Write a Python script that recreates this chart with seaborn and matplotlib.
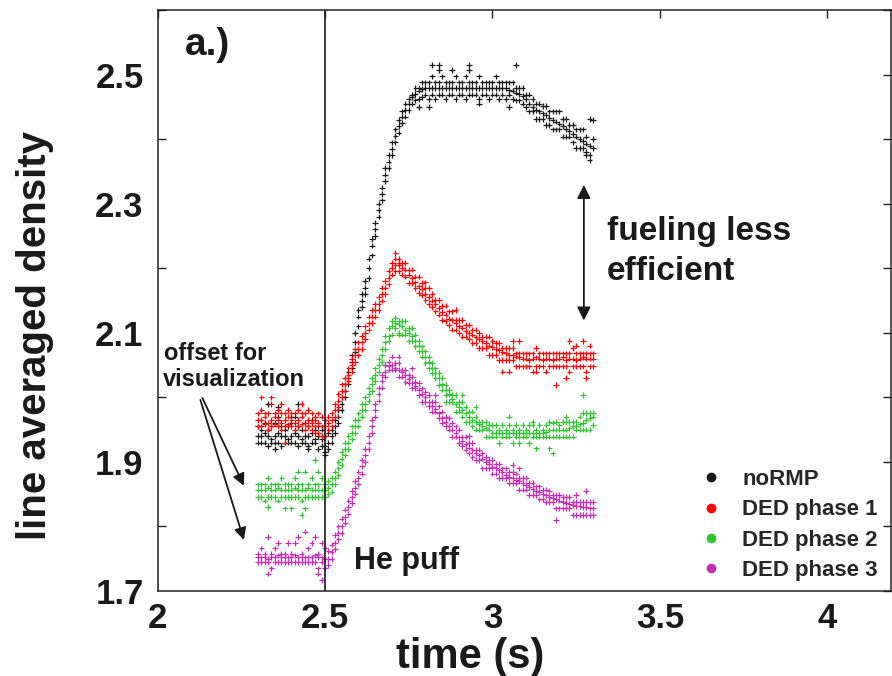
import matplotlib
matplotlib.use("Agg")
import matplotlib.pyplot as plt
from matplotlib.lines import Line2D
import seaborn as sns
import pandas as pd

# ---------------- data ----------------
times = [2.30, 2.31, 2.32, 2.33, 2.34, 2.35, 2.36, 2.37, 2.38, 2.39,
         2.40, 2.41, 2.42, 2.43, 2.44, 2.45, 2.46, 2.47, 2.48, 2.49,
         2.50, 2.51, 2.52, 2.53, 2.54, 2.55, 2.56, 2.57, 2.58, 2.59,
         2.60, 2.61, 2.62, 2.63, 2.64, 2.65, 2.66, 2.67, 2.68, 2.69,
         2.70, 2.71, 2.72, 2.73, 2.74, 2.75, 2.76, 2.77, 2.78, 2.79,
         2.80, 2.81, 2.82, 2.83, 2.84, 2.85, 2.86, 2.87, 2.88, 2.89,
         2.90, 2.91, 2.92, 2.93, 2.94, 2.95, 2.96, 2.97, 2.98, 2.99,
         3.00, 3.01, 3.02, 3.03, 3.04, 3.05, 3.06, 3.07, 3.08, 3.09,
         3.10, 3.11, 3.12, 3.13, 3.14, 3.15, 3.16, 3.17, 3.18, 3.19,
         3.20, 3.21, 3.22, 3.23, 3.24, 3.25, 3.26, 3.27, 3.28, 3.29,
         3.30]

normp_lo = [1.93, 1.93, 1.93, 1.925, 1.93, 1.93, 1.93, 1.925, 1.93, 1.93,
            1.93, 1.93, 1.925, 1.93, 1.93, 1.925, 1.93, 1.93, 1.92, 1.925,
            1.915, 1.92, 1.93, 1.945, 1.96, 1.98, 2.0, 2.02, 2.045, 2.07,
            2.11, 2.14, 2.16, 2.185, 2.22, 2.25, 2.28, 2.305, 2.335, 2.355,
            2.375, 2.395, 2.41, 2.425, 2.435, 2.445, 2.455, 2.46, 2.462, 2.465,
            2.469, 2.462, 2.469, 2.462, 2.469, 2.469, 2.462, 2.469, 2.469, 2.462,
            2.469, 2.469, 2.462, 2.469, 2.469, 2.469, 2.462, 2.469, 2.469, 2.462,
            2.469, 2.469, 2.462, 2.469, 2.462, 2.469, 2.462, 2.46, 2.46, 2.455,
            2.45, 2.443, 2.443, 2.431, 2.431, 2.431, 2.422, 2.422, 2.415, 2.415,
            2.415, 2.404, 2.404, 2.404, 2.395, 2.386, 2.386, 2.386, 2.38, 2.375,
            2.386]
normp_mid = [1.94, 1.94, 1.945, 1.94, 1.935, 1.94, 1.945, 1.94, 1.94, 1.935,
             1.94, 1.945, 1.94, 1.935, 1.94, 1.94, 1.945, 1.935, 1.94, 1.935,
             1.925, 1.93, 1.94, 1.955, 1.97, 1.99, 2.01, 2.03, 2.055, 2.085,
             2.125, 2.15, 2.17, 2.20, 2.235, 2.26, 2.29, 2.315, 2.345, 2.365,
             2.385, 2.405, 2.42, 2.435, 2.445, 2.455, 2.465, 2.47, 2.475, 2.478,
             2.479, 2.479, 2.479, 2.479, 2.479, 2.479, 2.479, 2.479, 2.479, 2.479,
             2.479, 2.479, 2.479, 2.479, 2.479, 2.479, 2.479, 2.479, 2.479, 2.479,
             2.479, 2.479, 2.479, 2.479, 2.479, 2.476, 2.475, 2.472, 2.47, 2.467,
             2.462, 2.455, 2.45, 2.445, 2.443, 2.44, 2.437, 2.433, 2.43, 2.427,
             2.424, 2.42, 2.416, 2.412, 2.408, 2.404, 2.40, 2.397, 2.393, 2.39,
             2.40]
normp_hi = [1.955, 1.95, 1.96, 1.95, 1.955, 1.96, 1.97, 1.955, 1.95, 1.955,
            1.96, 1.97, 1.955, 1.95, 1.96, 1.955, 1.965, 1.95, 1.955, 1.95,
            1.94, 1.945, 1.95, 1.965, 1.98, 2.0, 2.02, 2.04, 2.065, 2.10,
            2.135, 2.16, 2.18, 2.215, 2.245, 2.27, 2.30, 2.325, 2.355, 2.375,
            2.395, 2.415, 2.43, 2.443, 2.455, 2.462, 2.469, 2.479, 2.479, 2.488,
            2.488, 2.488, 2.497, 2.488, 2.488, 2.497, 2.488, 2.488, 2.488, 2.497,
            2.488, 2.488, 2.497, 2.488, 2.488, 2.488, 2.497, 2.488, 2.488, 2.488,
            2.488, 2.497, 2.488, 2.488, 2.488, 2.488, 2.488, 2.479, 2.479, 2.479,
            2.469, 2.469, 2.462, 2.455, 2.455, 2.451, 2.451, 2.443, 2.443, 2.443,
            2.443, 2.431, 2.431, 2.422, 2.422, 2.415, 2.415, 2.415, 2.404, 2.431,
            2.43]
normp_extra_t = [2.82, 2.84, 2.93, 3.07, 2.84, 2.88, 2.93, 2.78, 2.81, 2.96,
                 3.05, 3.29, 3.28, 2.33, 2.36, 2.42, 2.45, 2.35, 2.40, 2.50]
normp_extra_v = [2.515, 2.515, 2.515, 2.515, 2.507, 2.507, 2.507, 2.45, 2.45, 2.455,
                 2.45, 2.367, 2.375, 1.99, 1.985, 1.99, 1.92, 1.92, 1.97, 1.91]

ded1_lo = [1.955, 1.955, 1.958, 1.95, 1.955, 1.958, 1.955, 1.95, 1.955, 1.958,
           1.955, 1.95, 1.955, 1.958, 1.95, 1.955, 1.95, 1.955, 1.945, 1.94,
           1.94, 1.95, 1.955, 1.97, 1.985, 2.0, 2.01, 2.025, 2.04, 2.055,
           2.065, 2.075, 2.09, 2.105, 2.115, 2.125, 2.135, 2.15, 2.16, 2.175,
           2.19, 2.195, 2.195, 2.19, 2.187, 2.177, 2.177, 2.169, 2.162, 2.158,
           2.151, 2.145, 2.14, 2.133, 2.128, 2.12, 2.118, 2.112, 2.105, 2.105,
           2.1, 2.094, 2.094, 2.09, 2.084, 2.084, 2.076, 2.076, 2.076, 2.066,
           2.066, 2.066, 2.058, 2.058, 2.058, 2.058, 2.058, 2.048, 2.048, 2.048,
           2.048, 2.048, 2.04, 2.048, 2.048, 2.048, 2.04, 2.048, 2.048, 2.048,
           2.048, 2.048, 2.048, 2.04, 2.048, 2.048, 2.048, 2.048, 2.04, 2.048,
           2.048]
ded1_mid = [1.965, 1.965, 1.97, 1.96, 1.965, 1.97, 1.965, 1.96, 1.965, 1.97,
            1.965, 1.96, 1.965, 1.97, 1.96, 1.965, 1.96, 1.965, 1.96, 1.955,
            1.955, 1.96, 1.965, 1.98, 1.995, 2.01, 2.02, 2.035, 2.05, 2.065,
            2.075, 2.085, 2.10, 2.115, 2.125, 2.135, 2.145, 2.16, 2.17, 2.185,
            2.20, 2.205, 2.205, 2.20, 2.198, 2.19, 2.185, 2.178, 2.172, 2.168,
            2.16, 2.155, 2.15, 2.145, 2.138, 2.132, 2.128, 2.122, 2.12, 2.115,
            2.11, 2.108, 2.103, 2.10, 2.097, 2.093, 2.09, 2.087, 2.084, 2.08,
            2.078, 2.075, 2.073, 2.07, 2.068, 2.066, 2.065, 2.063, 2.062, 2.06,
            2.06, 2.058, 2.06, 2.062, 2.06, 2.058, 2.06, 2.06, 2.058, 2.06,
            2.06, 2.062, 2.058, 2.06, 2.06, 2.058, 2.06, 2.062, 2.06, 2.06,
            2.06]
ded1_hi = [1.975, 1.98, 1.975, 1.975, 1.99, 1.975, 1.98, 1.975, 1.975, 1.98,
           1.975, 1.975, 1.98, 1.975, 1.975, 1.98, 1.975, 1.97, 1.975, 1.97,
           1.965, 1.97, 1.975, 1.99, 2.005, 2.02, 2.03, 2.045, 2.06, 2.075,
           2.085, 2.095, 2.11, 2.125, 2.135, 2.145, 2.155, 2.17, 2.18, 2.195,
           2.208, 2.215, 2.208, 2.208, 2.208, 2.198, 2.198, 2.187, 2.187, 2.177,
           2.169, 2.169, 2.16, 2.151, 2.151, 2.142, 2.142, 2.133, 2.133, 2.12,
           2.12, 2.12, 2.112, 2.112, 2.105, 2.105, 2.1, 2.094, 2.094, 2.094,
           2.087, 2.084, 2.084, 2.076, 2.076, 2.076, 2.076, 2.068, 2.068, 2.068,
           2.068, 2.068, 2.068, 2.076, 2.068, 2.068, 2.068, 2.068, 2.068, 2.068,
           2.068, 2.068, 2.068, 2.068, 2.076, 2.068, 2.068, 2.068, 2.068, 2.068,
           2.068]
ded1_extra_t = [2.71, 2.72, 2.31, 2.34, 2.37, 2.43, 2.38, 2.47, 2.89, 2.80, 3.06,
                3.08, 3.23, 3.27, 3.25, 3.29, 3.03, 3.05, 3.13, 3.22, 3.19, 3.28]
ded1_extra_v = [2.224, 2.215, 2.0, 2.0, 1.99, 1.99, 1.93, 1.945, 2.135, 2.178, 2.087,
                2.087, 2.087, 2.087, 2.08, 2.08, 2.04, 2.04, 2.04, 2.03, 2.019, 2.03]

ded2_lo = [1.846, 1.846, 1.84, 1.846, 1.846, 1.846, 1.84, 1.846, 1.846, 1.846,
           1.846, 1.846, 1.846, 1.84, 1.846, 1.846, 1.846, 1.846, 1.846, 1.846,
           1.846, 1.85, 1.854, 1.865, 1.88, 1.895, 1.91, 1.92, 1.935, 1.945,
           1.955, 1.97, 1.98, 1.995, 2.01, 2.025, 2.04, 2.055, 2.075, 2.087,
           2.097, 2.107, 2.097, 2.097, 2.097, 2.087, 2.087, 2.079, 2.071, 2.063,
           2.053, 2.045, 2.038, 2.03, 2.019, 2.012, 2.004, 1.993, 1.993, 1.978,
           1.978, 1.97, 1.962, 1.962, 1.955, 1.95, 1.95, 1.95, 1.939, 1.939,
           1.939, 1.939, 1.929, 1.939, 1.939, 1.939, 1.929, 1.939, 1.939, 1.939,
           1.939, 1.929, 1.939, 1.939, 1.939, 1.939, 1.939, 1.939, 1.939, 1.939,
           1.939, 1.939, 1.939, 1.939, 1.939, 1.95, 1.95, 1.95, 1.95, 1.95,
           1.957]
ded2_mid = [1.857, 1.857, 1.857, 1.86, 1.857, 1.857, 1.86, 1.857, 1.857, 1.857,
            1.857, 1.86, 1.857, 1.857, 1.857, 1.86, 1.857, 1.857, 1.857, 1.857,
            1.857, 1.86, 1.865, 1.875, 1.89, 1.905, 1.92, 1.93, 1.945, 1.955,
            1.965, 1.98, 1.99, 2.005, 2.02, 2.035, 2.05, 2.065, 2.085, 2.095,
            2.11, 2.115, 2.113, 2.11, 2.105, 2.10, 2.095, 2.088, 2.08, 2.072,
            2.063, 2.055, 2.045, 2.038, 2.03, 2.02, 2.012, 2.005, 1.998, 1.99,
            1.985, 1.98, 1.975, 1.97, 1.965, 1.962, 1.958, 1.955, 1.952, 1.95,
            1.945, 1.945, 1.945, 1.945, 1.945, 1.945, 1.945, 1.945, 1.945, 1.945,
            1.945, 1.945, 1.945, 1.945, 1.945, 1.945, 1.947, 1.95, 1.95, 1.95,
            1.95, 1.95, 1.95, 1.952, 1.955, 1.955, 1.958, 1.96, 1.965, 1.968,
            1.97]
ded2_hi = [1.865, 1.865, 1.865, 1.875, 1.865, 1.865, 1.865, 1.875, 1.865, 1.865,
           1.865, 1.875, 1.865, 1.865, 1.885, 1.865, 1.875, 1.865, 1.865, 1.875,
           1.865, 1.87, 1.875, 1.885, 1.9, 1.915, 1.93, 1.94, 1.955, 1.965,
           1.975, 1.99, 2.0, 2.015, 2.03, 2.045, 2.06, 2.075, 2.095, 2.107,
           2.118, 2.123, 2.118, 2.118, 2.118, 2.107, 2.107, 2.097, 2.087, 2.079,
           2.071, 2.063, 2.053, 2.045, 2.038, 2.03, 2.019, 2.012, 2.004, 2.004,
           1.993, 1.993, 1.985, 1.978, 1.978, 1.97, 1.962, 1.962, 1.962, 1.957,
           1.957, 1.957, 1.95, 1.957, 1.95, 1.957, 1.95, 1.957, 1.95, 1.957,
           1.95, 1.957, 1.957, 1.95, 1.957, 1.95, 1.957, 1.962, 1.96, 1.962,
           1.957, 1.962, 1.962, 1.962, 1.962, 1.962, 1.97, 1.976, 1.976, 1.976,
           1.976]
ded2_extra_t = [2.38, 2.40, 2.43, 2.44, 2.33, 2.47, 2.42, 2.48, 2.77, 2.72, 2.86,
                2.91, 2.95, 3.05, 3.12, 3.08, 3.13, 3.17, 3.18, 3.27, 3.22]
ded2_extra_v = [1.828, 1.828, 1.818, 1.828, 1.83, 1.903, 1.885, 1.885, 2.079, 2.10, 1.993,
                2.004, 1.985, 1.97, 1.962, 1.929, 1.921, 1.921, 1.913, 2.004, 1.97]

ded3_lo = [1.745, 1.745, 1.745, 1.745, 1.735, 1.745, 1.745, 1.745, 1.745, 1.745,
           1.745, 1.745, 1.745, 1.745, 1.745, 1.745, 1.745, 1.745, 1.735, 1.745,
           1.735, 1.74, 1.75, 1.765, 1.78, 1.79, 1.805, 1.82, 1.836, 1.851,
           1.865, 1.882, 1.9, 1.92, 1.945, 1.97, 1.995, 2.015, 2.032, 2.043,
           2.043, 2.043, 2.032, 2.032, 2.024, 2.022, 2.014, 2.014, 2.004, 1.993,
           1.993, 1.986, 1.978, 1.978, 1.968, 1.96, 1.955, 1.95, 1.939, 1.939,
           1.929, 1.924, 1.919, 1.913, 1.908, 1.903, 1.903, 1.89, 1.89, 1.89,
           1.882, 1.882, 1.875, 1.875, 1.875, 1.867, 1.867, 1.867, 1.857, 1.857,
           1.857, 1.849, 1.849, 1.849, 1.842, 1.842, 1.838, 1.838, 1.838, 1.828,
           1.828, 1.828, 1.828, 1.828, 1.818, 1.818, 1.818, 1.818, 1.818, 1.818,
           1.818]
ded3_mid = [1.752, 1.752, 1.752, 1.75, 1.752, 1.752, 1.755, 1.752, 1.752, 1.752,
            1.752, 1.755, 1.752, 1.752, 1.752, 1.752, 1.752, 1.755, 1.752, 1.752,
            1.75, 1.75, 1.76, 1.775, 1.79, 1.80, 1.815, 1.83, 1.845, 1.86,
            1.875, 1.893, 1.91, 1.93, 1.955, 1.98, 2.005, 2.025, 2.04, 2.048,
            2.05, 2.045, 2.043, 2.04, 2.035, 2.028, 2.022, 2.018, 2.012, 2.005,
            2.0, 1.993, 1.987, 1.982, 1.975, 1.968, 1.962, 1.956, 1.95, 1.945,
            1.938, 1.932, 1.928, 1.922, 1.918, 1.913, 1.91, 1.905, 1.90, 1.896,
            1.892, 1.89, 1.887, 1.884, 1.88, 1.877, 1.875, 1.872, 1.87, 1.867,
            1.864, 1.861, 1.858, 1.855, 1.853, 1.85, 1.848, 1.846, 1.844, 1.842,
            1.84, 1.838, 1.836, 1.835, 1.833, 1.832, 1.831, 1.83, 1.83, 1.828,
            1.828]
ded3_hi = [1.758, 1.766, 1.758, 1.784, 1.758, 1.766, 1.774, 1.758, 1.758, 1.774,
           1.758, 1.774, 1.784, 1.758, 1.792, 1.766, 1.774, 1.784, 1.758, 1.774,
           1.766, 1.762, 1.772, 1.787, 1.80, 1.812, 1.826, 1.84, 1.855, 1.87,
           1.885, 1.903, 1.92, 1.94, 1.965, 1.99, 2.015, 2.035, 2.05, 2.055,
           2.063, 2.053, 2.053, 2.043, 2.043, 2.035, 2.032, 2.024, 2.022, 2.014,
           2.008, 2.004, 1.993, 1.993, 1.986, 1.978, 1.97, 1.968, 1.96, 1.955,
           1.95, 1.939, 1.939, 1.929, 1.929, 1.919, 1.919, 1.913, 1.908, 1.903,
           1.903, 1.897, 1.897, 1.89, 1.89, 1.884, 1.884, 1.882, 1.875, 1.875,
           1.875, 1.867, 1.867, 1.862, 1.862, 1.857, 1.857, 1.855, 1.849, 1.849,
           1.849, 1.846, 1.846, 1.846, 1.838, 1.838, 1.838, 1.838, 1.838, 1.838,
           1.838]
ded3_extra_t = [2.33, 2.34, 2.48, 2.49, 2.72, 2.76, 2.83, 2.93, 3.06, 3.08, 3.19, 3.28, 3.25]
ded3_extra_v = [1.727, 1.735, 1.727, 1.717, 2.063, 2.045, 2.004, 1.94, 1.895, 1.89, 1.81, 1.855, 1.849]

series_names = ["noRMP", "DED phase 1", "DED phase 2", "DED phase 3"]
series_colors = ["#1a1a1a", "#ff0000", "#33c233", "#c42fb4"]
x_ticks = [2, 2.5, 3, 3.5, 4]
x_tick_labels = ["2", "2.5", "3", "3.5", "4"]
y_ticks = [1.7, 1.9, 2.1, 2.3, 2.5]
y_tick_labels = ["1.7", "1.9", "2.1", "2.3", "2.5"]

# ---------------- build long table ----------------
series_rows = [
    (normp_lo, normp_mid, normp_hi, normp_extra_t, normp_extra_v),
    (ded1_lo, ded1_mid, ded1_hi, ded1_extra_t, ded1_extra_v),
    (ded2_lo, ded2_mid, ded2_hi, ded2_extra_t, ded2_extra_v),
    (ded3_lo, ded3_mid, ded3_hi, ded3_extra_t, ded3_extra_v),
]
frames = []
for name, (lo, mid, hi, et, ev) in zip(series_names, series_rows):
    for vals in (lo, mid, hi):
        assert len(vals) == len(times), (name, len(vals))
        frames.append(pd.DataFrame({"t": times, "v": vals, "series": name}))
    frames.append(pd.DataFrame({"t": et, "v": ev, "series": name}))
df = pd.concat(frames, ignore_index=True)

# ---------------- style ----------------
sns.set_theme(style="white")
plt.rcParams["font.family"] = ["Liberation Sans", "DejaVu Sans"]
plt.rcParams["font.weight"] = "bold"
plt.rcParams["axes.labelweight"] = "bold"

W, H = 892, 676
AX_L, AX_R, AX_T, AX_B = 157.5, 891.0, 10.0, 591.0
AX_W, AX_H = AX_R - AX_L, AX_B - AX_T
fig = plt.figure(figsize=(W / 100, H / 100), dpi=100)
ax = fig.add_axes([AX_L / W, 1 - AX_B / H, AX_W / W, AX_H / H])

sns.scatterplot(data=df, x="t", y="v", hue="series", hue_order=series_names,
                palette=series_colors, marker="+", s=16, linewidth=0.9,
                legend=False, ax=ax, zorder=3)

ax.set_xlim(2, 4.19)
ax.set_ylim(1.7, 2.6)
ax.set_xticks(x_ticks)
ax.set_xticklabels(x_tick_labels)
ax.set_yticks(y_ticks)
ax.set_yticklabels(y_tick_labels)
ax.set_yticks([1.8, 2.0, 2.2, 2.4, 2.6], minor=True)
ax.tick_params(axis="both", which="major", direction="in", length=6, width=1.0,
               color="#222222", labelsize=25, top=True, right=True)
ax.tick_params(axis="y", which="major", pad=10)
ax.tick_params(axis="x", which="major", pad=8)
ax.tick_params(axis="y", which="minor", direction="in", length=6, width=1.0,
               color="#222222", right=True, left=True)
for lab in ax.get_xticklabels() + ax.get_yticklabels():
    lab.set_fontweight("bold")
    lab.set_color("#1a1a1a")
for sp in ax.spines.values():
    sp.set_linewidth(1.1)
    sp.set_color("#222222")

ax.set_xlabel("time (s)", fontsize=30, fontweight="bold", color="#1a1a1a")
ax.set_ylabel("line averaged density", fontsize=29, fontweight="bold", color="#1a1a1a")
ax.xaxis.set_label_coords((470 - AX_L) / AX_W, -(637 - AX_B) / AX_H)
ax.yaxis.set_label_coords(-(AX_L - 54) / AX_W, (AX_B - 335) / AX_H)

# He puff line
ax.axvline(2.5, color="#1a1a1a", lw=1.2, zorder=4)

# annotations
ax.text(2.082, 2.546, "a.)", fontsize=28, fontweight="bold", color="#1a1a1a",
        ha="left", va="center")
ax.text(2.588, 1.746, "He puff", fontsize=22, fontweight="bold", color="#1a1a1a",
        ha="left", va="center")
ax.text(3.342, 2.257, "fueling less", fontsize=24, fontweight="bold", color="#1a1a1a",
        ha="left", va="center")
ax.text(3.342, 2.195, "efficient", fontsize=24, fontweight="bold", color="#1a1a1a",
        ha="left", va="center")
ax.annotate("", xy=(3.273, 2.329), xytext=(3.273, 2.119),
            arrowprops=dict(arrowstyle="<|-|>", color="#1a1a1a", lw=1.3,
                            mutation_scale=20, shrinkA=0, shrinkB=0))
ax.text(2.018, 2.068, "offset for", fontsize=17, fontweight="bold", color="#1a1a1a",
        ha="left", va="center")
ax.text(2.015, 2.028, "visualization", fontsize=17, fontweight="bold", color="#1a1a1a",
        ha="left", va="center")
for head, start in [((2.258, 1.863), (2.134, 1.999)), ((2.258, 1.779), (2.128, 1.996))]:
    ax.annotate("", xy=head, xytext=start,
                arrowprops=dict(arrowstyle="-|>", color="#1a1a1a", lw=1.3,
                                mutation_scale=18, shrinkA=0, shrinkB=0))

handles = [Line2D([0], [0], marker="o", linestyle="none", markersize=6,
                  markerfacecolor=c, markeredgecolor=c) for c in series_colors]
leg = fig.legend(handles, series_names, loc="upper left",
                 bbox_to_anchor=(700 / W, 1 - 469 / H), frameon=False,
                 prop={"weight": "bold", "size": 16}, handlelength=1.0,
                 handletextpad=0.9, labelspacing=0.42, borderpad=0, borderaxespad=0)

fig.savefig("out.png", dpi=100)
